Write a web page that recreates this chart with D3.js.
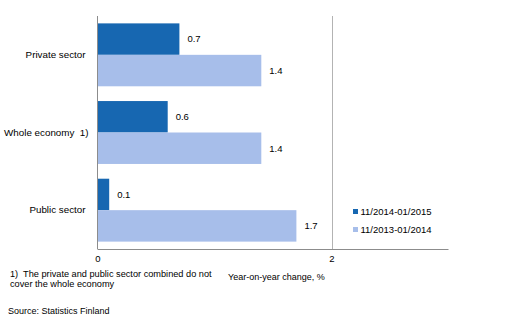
<!DOCTYPE html>
<html><head><meta charset="utf-8">
<script src="https://cdn.jsdelivr.net/npm/d3@7"></script>
<style>body{margin:0;background:#fff}text{font-family:"Liberation Sans",Arial,sans-serif;fill:#000;white-space:pre}</style>
</head><body><svg id="c" width="515" height="322"></svg>
<script>
const categories = ["Private sector", "Whole economy  1)", "Public sector"];
const seriesNames = ["11/2014-01/2015", "11/2013-01/2014"];
const series2015 = [0.7, 0.6, 0.1];
const series2014 = [1.4, 1.4, 1.7];
const xTicks = [0, 2];
const colors = ["#1767B1", "#A7BEEA"];

const svg = d3.select("#c");
const x = d3.scaleLinear().domain([0, 3]).range([97.5, 448.5]);
const y = d3.scaleBand().domain(categories).range([16, 249]).paddingInner(0.19).paddingOuter(0.095);
const ySub = d3.scaleBand().domain([0, 1]).range([0, y.bandwidth()]);
const fs = "9.5px";

// gridline at 2
svg.append("g").selectAll("line").data(xTicks.filter(d => d !== 0)).join("line")
  .attr("x1", d => Math.round(x(d)) + 0.5).attr("x2", d => Math.round(x(d)) + 0.5)
  .attr("y1", 16).attr("y2", 249).attr("stroke", "#b3b3b3");

const rows = categories.map((c, i) => ({c, v: [series2015[i], series2014[i]]}));
const g = svg.append("g").selectAll("g").data(rows).join("g")
  .attr("transform", d => `translate(0,${y(d.c)})`);
g.selectAll("rect").data(d => d.v.map((v, k) => ({v, k}))).join("rect")
  .attr("x", x(0)).attr("y", d => ySub(d.k))
  .attr("width", d => x(d.v) - x(0)).attr("height", ySub.bandwidth())
  .attr("fill", d => colors[d.k]);
g.selectAll("text.v").data(d => d.v.map((v, k) => ({v, k}))).join("text").attr("class", "v")
  .attr("x", d => x(d.v) + 8).attr("y", d => ySub(d.k) + ySub.bandwidth() / 2)
  .attr("dy", "0.35em").style("font-size", fs).text(d => d3.format(".1f")(d.v));

// axes
const xAxis = d3.axisBottom(x).tickValues(xTicks).tickSize(0).tickPadding(6).tickFormat(d3.format("d"));
const ax = svg.append("g").attr("transform", "translate(0,249.5)").call(xAxis);
ax.select(".domain").attr("stroke", "#8c8c8c").attr("d", `M${x(0)},0H${x(3)}`);
ax.selectAll("text").style("font-size", fs).style("font-family", '"Liberation Sans",Arial,sans-serif');

const yAxis = d3.axisLeft(y).tickSize(0).tickPadding(12);
const ay = svg.append("g").attr("transform", `translate(${x(0)},0)`).call(yAxis);
ay.select(".domain").attr("stroke", "#8c8c8c").attr("d", "M0,16V249");
ay.selectAll("text").style("font-size", "9.8px").style("font-family", '"Liberation Sans",Arial,sans-serif').style("white-space", "pre");
ay.selectAll(".tick").filter(d => d.includes("1)")).select("text").attr("dx", 3);

// legend
const lg = svg.append("g").selectAll("g").data(seriesNames).join("g")
  .attr("transform", (d, i) => `translate(353,${212 + i * 18})`);
lg.append("rect").attr("x", 0).attr("y", -3).attr("width", 5).attr("height", 5).attr("fill", (d, i) => colors[i]);
lg.append("text").attr("x", 7.5).attr("y", 0).attr("dy", "0.35em").style("font-size", fs).text(d => d);

// footnotes
const fn = svg.append("text").attr("x", 10).attr("y", 277).style("font-size", "9.2px");
fn.append("tspan").attr("x", 10).text("1)  The private and public sector combined do not");
fn.append("tspan").attr("x", 10).attr("dy", 10).text("cover the whole economy");
svg.append("text").attr("x", 228).attr("y", 280).style("font-size", "9px").text("Year-on-year change, %");
svg.append("text").attr("x", 8).attr("y", 314).style("font-size", "9px").text("Source: Statistics Finland");
</script></body></html>
